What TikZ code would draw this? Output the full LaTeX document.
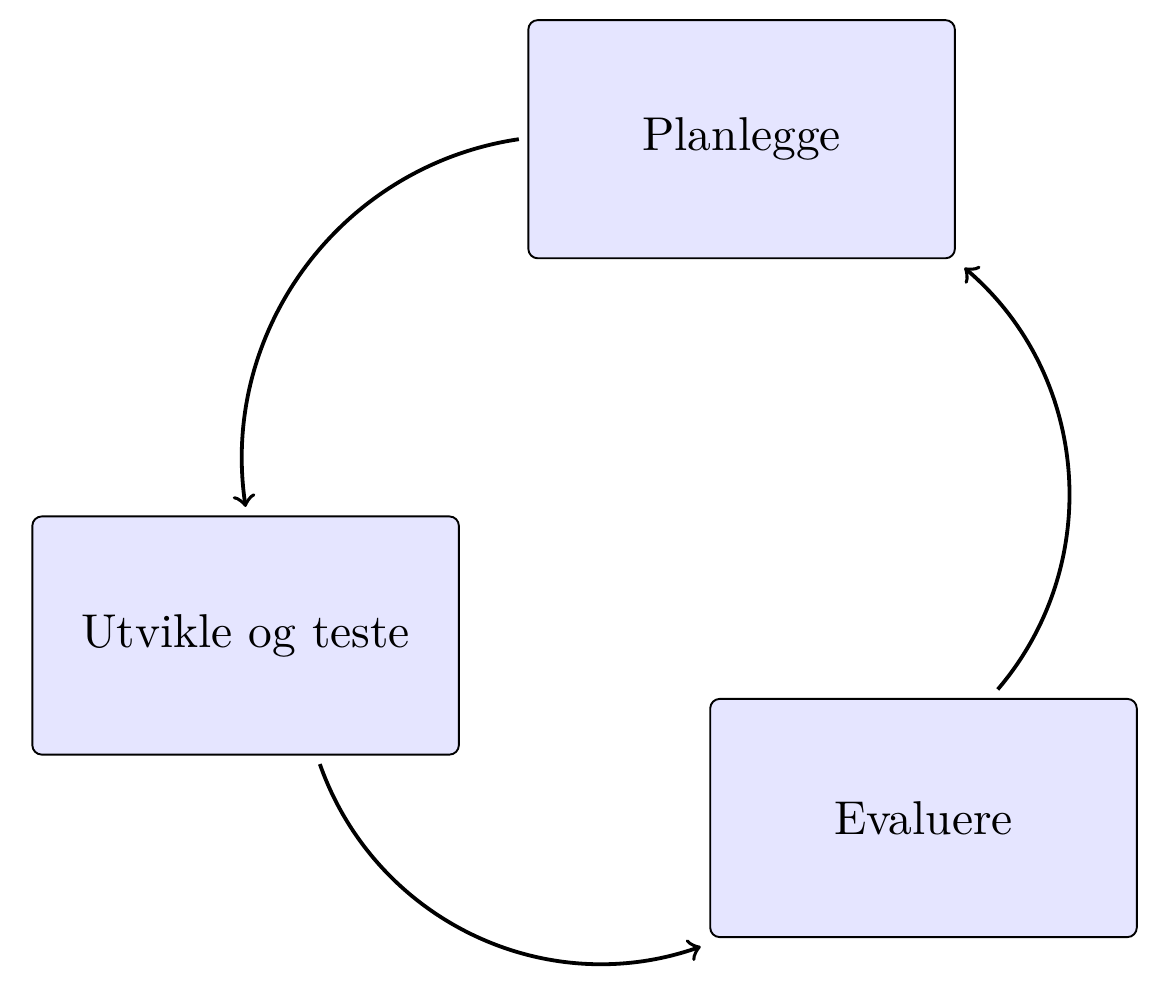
\documentclass[tikz,border=0pt]{standalone}
\begin{document}
\tikzset{
  stage/.style={draw, line width=0.4pt, rounded corners=2pt, fill=blue!10,
    minimum width=89.9pt, minimum height=50.2pt, outer sep=2pt, inner sep=0pt},
  flow/.style={->, thick}
}
\begin{tikzpicture}[x=0.21075pt, y=0.21075pt]
\useasboundingbox (0,0) rectangle (1156,988);
\node[stage] (plan) at (741.6,848.8) {Planlegge};
\node[stage] (utv) at (245.6,352.5) {Utvikle og teste};
\node[stage] (eval) at (923.5,170.0) {Evaluere};
\draw[flow] (plan.west) to[bend right=45] (utv.north);
\draw[flow] (utv.-60) to[bend right=45] (eval.south west);
\draw[flow] (eval.60) to[bend right=45] (plan.south east);
\end{tikzpicture}
\end{document}
